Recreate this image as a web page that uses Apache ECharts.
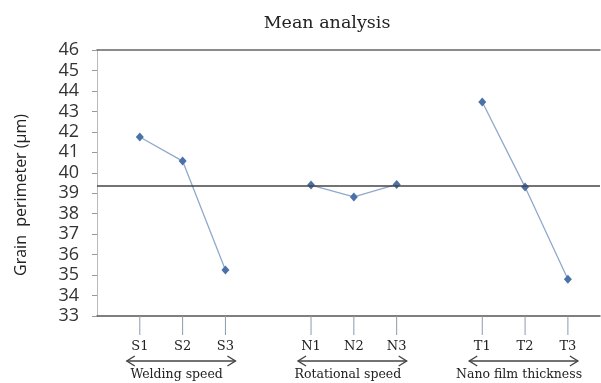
<!DOCTYPE html>
<html>
<head>
<meta charset="utf-8">
<script src="https://cdn.jsdelivr.net/npm/echarts@6/dist/echarts.min.js"></script>
<style>html,body{margin:0;padding:0;background:#fff}#c{width:601px;height:383px}</style>
</head>
<body>
<div id="c"></div>
<script>
// ---- data ----
const categories = ['S1','S2','S3','','N1','N2','N3','','T1','T2','T3'];
const values = [41.75, 40.57, 35.25, null, 39.40, 38.82, 39.43, null, 43.46, 39.30, 34.80];
const groupNames = ['Welding speed', 'Rotational speed', 'Nano film thickness'];
const groupRanges = [[1, 3], [5, 7], [9, 11]];
const meanValue = 39.35;
const yMin = 33, yMax = 46;

const serif = 'DejaVu Serif';
const pts = values.map((v, i) => [i + 1, v]);
const tickData = categories.map((c, i) => [i + 1, c]).filter(d => d[1] !== '');
const groupData = groupRanges.map((r, i) => [r[0], r[1], groupNames[i]]);

const chart = echarts.init(document.getElementById('c'));
chart.setOption({
  animation: false,
  title: {
    text: 'Mean analysis', left: 322, top: 9, textAlign: 'center',
    textStyle: { fontFamily: serif, fontSize: 17.5, fontWeight: 'normal', color: '#222' }
  },
  grid: { left: 97, right: 1, top: 50, bottom: 67 },
  xAxis: [
    { type: 'value', min: 0, max: 11.75, axisLabel: { show: false }, axisTick: { show: false },
      splitLine: { show: false }, axisLine: { show: true, onZero: false, lineStyle: { color: '#555', width: 1.5 } } },
    { type: 'value', position: 'top', min: 0, max: 11.75, axisLabel: { show: false }, axisTick: { show: false },
      splitLine: { show: false }, axisLine: { show: true, lineStyle: { color: '#666', width: 1.5 } } }
  ],
  yAxis: [
    { type: 'value', min: yMin, max: yMax, interval: 1,
      name: 'Grain  perimeter (µm)', nameLocation: 'middle', nameGap: 68,
      nameTextStyle: { fontFamily: 'Open Sans', fontSize: 16, color: '#222', padding: [0, 24, 0, 0] },
      axisLine: { show: true, lineStyle: { color: '#999' } },
      axisTick: { show: true, length: 5, lineStyle: { color: '#999' } },
      axisLabel: { margin: 18, fontFamily: 'Open Sans', fontSize: 18, color: '#333' },
      splitLine: { show: false } },
    { type: 'value', position: 'right', min: yMin, max: yMax, axisLabel: { show: false },
      axisTick: { show: false }, splitLine: { show: false },
      axisLine: { show: true, lineStyle: { color: '#bbb' } } }
  ],
  series: [
    {
      type: 'line', data: pts, connectNulls: false,
      symbol: 'diamond', symbolSize: [8, 9],
      itemStyle: { color: '#4a72a8' },
      lineStyle: { color: '#8fa9cc', width: 1.3 },
      markLine: {
        silent: true, symbol: 'none', label: { show: false },
        lineStyle: { color: '#444', width: 1.5, type: 'solid' },
        data: [{ yAxis: meanValue }]
      }
    },
    {
      type: 'custom', data: tickData, clip: false, silent: true,
      renderItem: function (params, api) {
        const p = api.coord([api.value(0), yMin]);
        return { type: 'group', children: [
          { type: 'line', shape: { x1: p[0], y1: p[1], x2: p[0], y2: p[1] + 19 },
            style: { stroke: '#8a9bb0', lineWidth: 1 } },
          { type: 'text', x: p[0], y: p[1] + 31,
            style: { text: tickData[params.dataIndex][1], fontFamily: serif, fontSize: 13,
              fill: '#222', align: 'center', verticalAlign: 'middle' } }
        ]};
      }
    },
    {
      type: 'custom', data: groupData, clip: false, silent: true,
      renderItem: function (params, api) {
        const a = api.coord([api.value(0), yMin]);
        const b = api.coord([api.value(1), yMin]);
        const x1 = a[0] - 13, x2 = b[0] + 10, y = a[1] + 45;
        const st = { stroke: '#444', lineWidth: 1.4, fill: 'none' };
        return { type: 'group', children: [
          { type: 'line', shape: { x1: x1, y1: y, x2: x2, y2: y }, style: st },
          { type: 'polyline', shape: { points: [[x1 + 8, y - 5], [x1, y], [x1 + 8, y + 5]] }, style: st },
          { type: 'polyline', shape: { points: [[x2 - 8, y - 5], [x2, y], [x2 - 8, y + 5]] }, style: st },
          { type: 'text', x: (a[0] + b[0]) / 2 - 6, y: a[1] + 59,
            style: { text: groupData[params.dataIndex][2], fontFamily: serif, fontSize: 12.5,
              fill: '#222', align: 'center', verticalAlign: 'middle' } }
        ]};
      }
    }
  ]
});
</script>
</body>
</html>
